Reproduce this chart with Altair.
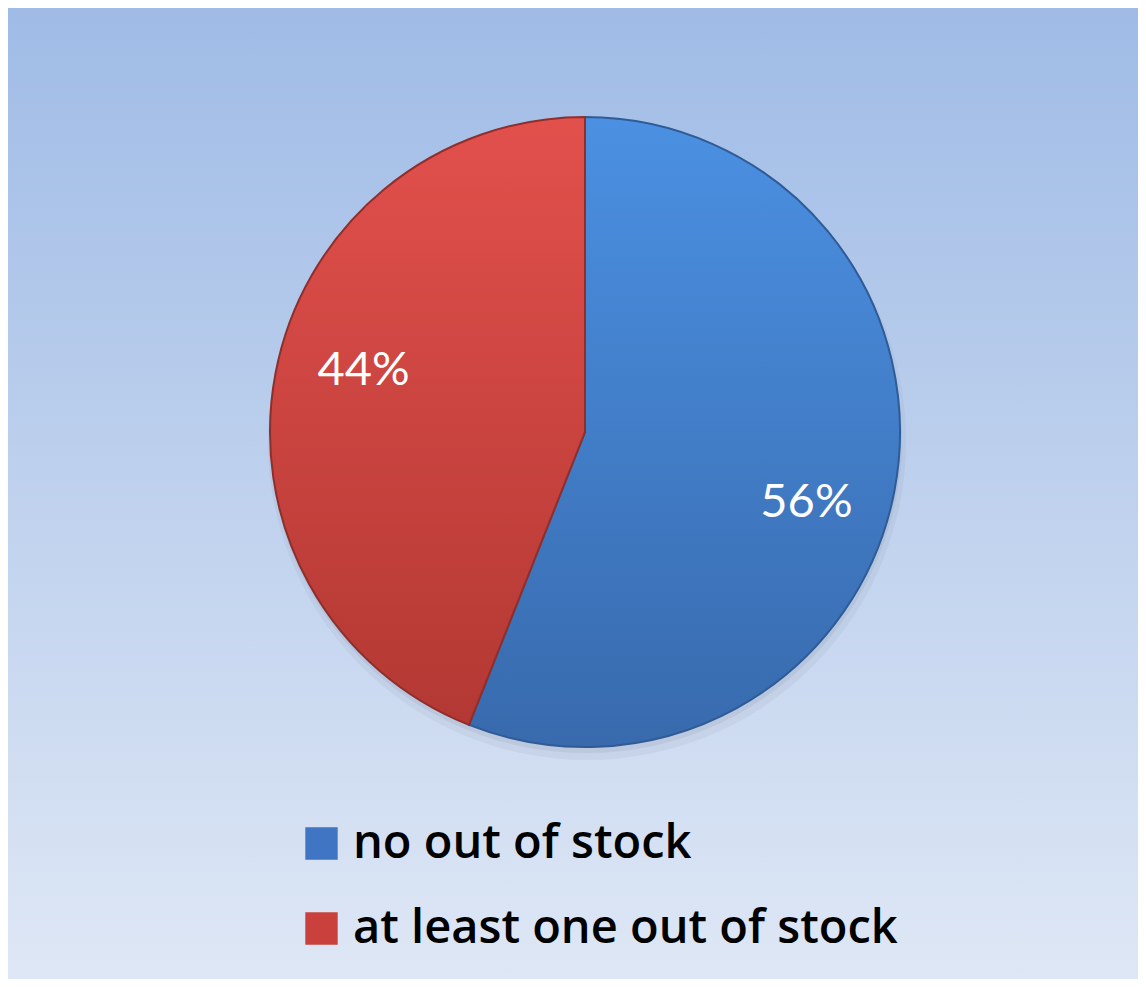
import altair as alt
import pandas as pd

categories = ["no out of stock", "at least one out of stock"]
values = [56, 44]
labels = ["56%", "44%"]
order = [0, 1]

df = pd.DataFrame({"category": categories, "value": values, "label": labels, "order": order})

W, H = 1130, 971
CX, CY, R = 577, 424, 315
FONT = "Open Sans"


def lin(c0, c1):
    return alt.Gradient(
        gradient="linear",
        stops=[alt.GradientStop(color=c0, offset=0), alt.GradientStop(color=c1, offset=1)],
        x1=0, x2=0, y1=0, y2=1,
    )


bg = alt.Chart(pd.DataFrame({"a": [0]})).mark_rect(fill=lin("#9fbbe6", "#dee7f5")).encode(
    x=alt.value(0), x2=alt.value(W), y=alt.value(0), y2=alt.value(H)
)

shadow1 = alt.Chart(pd.DataFrame({"a": [0]})).mark_arc(
    theta=0, theta2=6.2832, radius=R + 4, fill="#7f8aa0", opacity=0.10
).encode(x=alt.value(CX + 2), y=alt.value(CY + 9))
shadow2 = alt.Chart(pd.DataFrame({"a": [0]})).mark_arc(
    theta=0, theta2=6.2832, radius=R + 1, fill="#6f7a90", opacity=0.12
).encode(x=alt.value(CX + 1), y=alt.value(CY + 5))

base = (
    alt.Chart(df)
    .transform_joinaggregate(total="sum(value)")
    .transform_window(cum="sum(value)", sort=[alt.SortField("order")], frame=[None, 0])
    .transform_calculate(
        t0="(datum.cum - datum.value) / datum.total * 2 * PI",
        t1="datum.cum / datum.total * 2 * PI",
        tm="(datum.cum - datum.value / 2) / datum.total * 2 * PI + 0.1",
    )
)

solid = base.mark_arc(radius=R).encode(
    theta=alt.Theta("t0:Q", scale=None),
    theta2="t1:Q",
    x=alt.value(CX),
    y=alt.value(CY),
    color=alt.Color(
        "category:N",
        scale=alt.Scale(domain=categories, range=["#3f75c2", "#c9403c"]),
        sort=categories,
        legend=alt.Legend(
            title=None,
            orient="none",
            legendX=290,
            legendY=812,
            symbolType="square",
            symbolSize=1050,
            symbolStrokeWidth=0,
            labelFont=FONT,
            labelFontSize=47,
            labelFontWeight=600,
            labelColor="#000000",
            labelOffset=8,
            labelLimit=900,
            rowPadding=37,
            padding=0,
        ),
    ),
)

blue = base.transform_filter(alt.datum.order == 0).mark_arc(
    radius=R, fill=lin("#4b90e2", "#386aad"), stroke="#2f5b96", strokeWidth=2
).encode(theta=alt.Theta("t0:Q", scale=None), theta2="t1:Q", x=alt.value(CX), y=alt.value(CY))

red = base.transform_filter(alt.datum.order == 1).mark_arc(
    radius=R, fill=lin("#e2504c", "#b33833"), stroke="#8f2f2c", strokeWidth=2
).encode(theta=alt.Theta("t0:Q", scale=None), theta2="t1:Q", x=alt.value(CX), y=alt.value(CY))

text = base.mark_text(font="Lato", fontSize=47, color="white", align="center", baseline="middle", dy=5).encode(
    theta=alt.Theta("tm:Q", scale=None),
    radius=alt.value(231),
    x=alt.value(CX),
    y=alt.value(CY),
    text="label:N",
)

chart = (
    alt.layer(bg, shadow1, shadow2, solid, blue, red, text)
    .properties(width=W, height=H, padding=0, autosize="none", background="white")
    .configure_view(strokeWidth=0)
)

chart.save("out.html", embed_options={"renderer": "svg", "actions": False})
